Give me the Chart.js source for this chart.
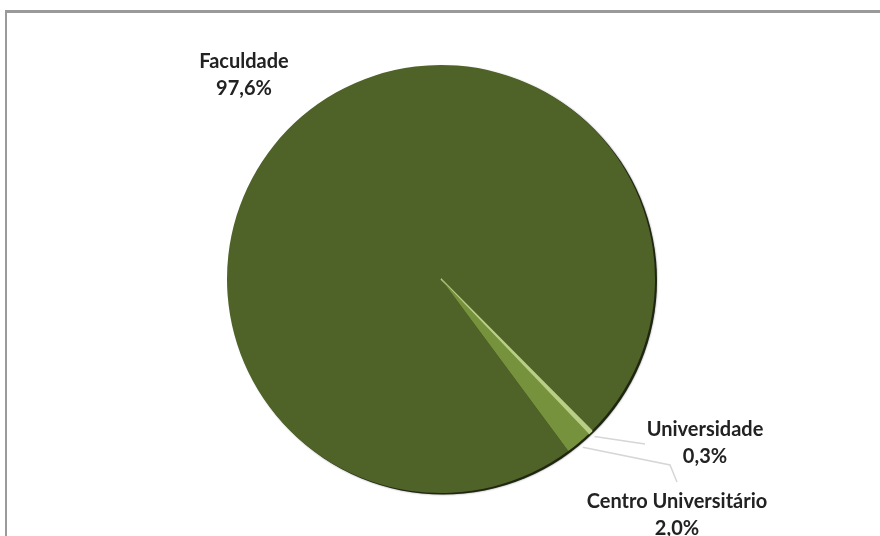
<!DOCTYPE html>
<html lang="pt-BR">
<head>
<meta charset="utf-8">
<title>Instituições por organização acadêmica</title>
<script src="https://cdn.jsdelivr.net/npm/chart.js@4.4.1/dist/chart.umd.min.js"></script>
<style>
  html, body { margin: 0; padding: 0; background: #fff; }
  #wrap { position: relative; width: 880px; height: 536px; }
</style>
</head>
<body>
<div id="wrap"><canvas id="orgChart" width="880" height="536"></canvas></div>
<script>
// Participação por organização acadêmica (%)
const categorias = ['Faculdade', 'Universidade', 'Centro Universitário'];
const percentuais = [97.6, 0.3, 2.0];
const cores = ['#4f6228', '#b9cf86', '#76923c'];

// posição dos rótulos e pontos de dobra das linhas guia
const rotulos = [
  { x: 244, y: 62, guia: null },
  { x: 705, y: 430, guia: [[645, 444]] },
  { x: 677, y: 502, guia: [[670, 465], [677, 482]] }
];

const fmt = v => v.toFixed(1).replace('.', ',') + '%';

// moldura cinza (topo e lateral esquerda)
const moldura = {
  id: 'moldura',
  beforeDraw(chart) {
    const ctx = chart.ctx;
    ctx.save();
    ctx.fillStyle = '#ffffff';
    ctx.fillRect(0, 0, chart.width, chart.height);
    ctx.fillStyle = '#9a9a9a';
    ctx.fillRect(5, 10, chart.width - 5, 3);
    ctx.fillRect(5, 10, 2, chart.height - 10);
    ctx.restore();
  }
};

// sombra escura deslocada para baixo/direita
const sombra = {
  id: 'sombra',
  beforeDatasetsDraw(chart) {
    const arc = chart.getDatasetMeta(0).data[0];
    if (!arc) return;
    const ctx = chart.ctx;
    ctx.save();
    ctx.fillStyle = '#1f2611';
    ctx.shadowColor = 'rgba(0,0,0,0.5)';
    ctx.shadowBlur = 2;
    ctx.beginPath();
    ctx.arc(arc.x + 2, arc.y + 1.5, arc.outerRadius, 0, Math.PI * 2);
    ctx.fill();
    ctx.restore();
  }
};

// rótulos com nome e percentual, com linhas guia
const rotulosPlugin = {
  id: 'rotulos',
  afterDatasetsDraw(chart) {
    const ctx = chart.ctx;
    const meta = chart.getDatasetMeta(0);
    ctx.save();
    meta.data.forEach((arc, i) => {
      const cfg = rotulos[i];
      if (cfg.guia) {
        const mid = (arc.startAngle + arc.endAngle) / 2;
        const r = arc.outerRadius + 6;
        ctx.strokeStyle = '#d6d6d6';
        ctx.lineWidth = 1.5;
        ctx.beginPath();
        ctx.moveTo(arc.x + Math.cos(mid) * r, arc.y + Math.sin(mid) * r);
        cfg.guia.forEach(p => ctx.lineTo(p[0], p[1]));
        ctx.stroke();
      }
      ctx.fillStyle = '#222222';
      ctx.font = 'bold 20px Lato';
      ctx.textAlign = 'center';
      ctx.textBaseline = 'middle';
      ctx.fillText(categorias[i], cfg.x, cfg.y);
      ctx.fillText(fmt(percentuais[i]), cfg.x, cfg.y + 27);
    });
    ctx.restore();
  }
};

new Chart(document.getElementById('orgChart'), {
  type: 'pie',
  data: {
    labels: categorias,
    datasets: [{
      data: percentuais,
      backgroundColor: cores,
      borderColor: cores,
      borderWidth: [0, 1.5, 0]
    }]
  },
  options: {
    responsive: false,
    animation: false,
    rotation: 143.5,
    radius: 214,
    layout: { padding: { left: 226, right: 224, top: 64, bottom: 42 } },
    plugins: {
      legend: { display: false },
      tooltip: { enabled: false }
    }
  },
  plugins: [moldura, sombra, rotulosPlugin]
});
</script>
</body>
</html>
